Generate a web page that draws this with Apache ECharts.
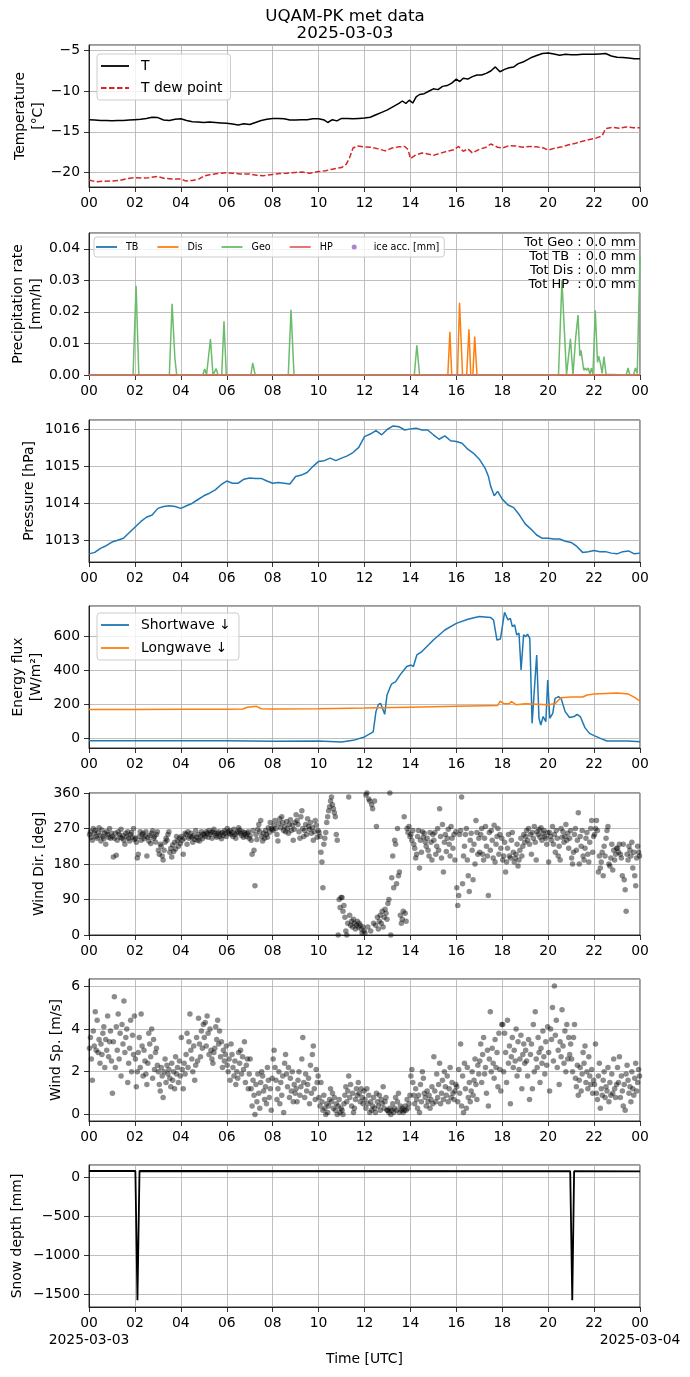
<!DOCTYPE html>
<html><head><meta charset="utf-8">
<script src="https://cdn.jsdelivr.net/npm/echarts@6/dist/echarts.min.js"></script>
<style>html,body{margin:0;padding:0;background:#fff}#c{width:690px;height:1377px}</style>
</head><body><div id="c"></div>
<script>
// ---------- DATA (hours UTC, values) ----------
const xTickLabels = ['00','02','04','06','08','10','12','14','16','18','20','22','00'];
const dateLabels = ['2025-03-03','2025-03-04'];

const tempT = [[0,-13.5],[0.25,-13.55],[0.5,-13.6],[0.75,-13.6],[1,-13.65],[1.25,-13.6],[1.5,-13.6],[1.75,-13.55],[2,-13.5],[2.25,-13.45],[2.5,-13.35],[2.75,-13.2],[3,-13.25],[3.25,-13.55],[3.5,-13.6],[3.75,-13.45],[4,-13.4],[4.25,-13.6],[4.5,-13.75],[4.75,-13.8],[5,-13.85],[5.25,-13.8],[5.5,-13.85],[5.75,-13.9],[6,-13.95],[6.25,-14.05],[6.5,-14.15],[6.75,-14.0],[7,-14.1],[7.25,-13.85],[7.5,-13.6],[7.75,-13.45],[8,-13.35],[8.25,-13.35],[8.5,-13.4],[8.75,-13.55],[9,-13.55],[9.25,-13.5],[9.5,-13.5],[9.75,-13.4],[10,-13.4],[10.25,-13.55],[10.4,-13.85],[10.6,-13.5],[10.8,-13.65],[11,-13.35],[11.25,-13.35],[11.5,-13.4],[11.75,-13.35],[12,-13.3],[12.25,-13.2],[12.5,-12.9],[12.75,-12.6],[13,-12.3],[13.25,-11.9],[13.5,-11.5],[13.65,-11.2],[13.8,-11.5],[13.95,-11.1],[14.1,-11.45],[14.25,-10.7],[14.4,-10.4],[14.6,-10.3],[14.8,-10.0],[15,-9.7],[15.2,-9.8],[15.4,-9.4],[15.6,-9.3],[15.8,-9.0],[16,-8.5],[16.15,-8.8],[16.3,-8.4],[16.5,-8.5],[16.7,-8.2],[16.9,-8.0],[17.1,-8.0],[17.3,-7.8],[17.5,-7.5],[17.7,-7.0],[17.9,-7.6],[18.1,-7.3],[18.3,-7.1],[18.5,-7.0],[18.7,-6.6],[18.9,-6.4],[19.1,-6.1],[19.3,-5.8],[19.5,-5.6],[19.75,-5.35],[20,-5.3],[20.25,-5.4],[20.5,-5.55],[20.75,-5.45],[21,-5.5],[21.25,-5.5],[21.5,-5.45],[21.75,-5.45],[22,-5.45],[22.25,-5.4],[22.5,-5.35],[22.75,-5.65],[23,-5.8],[23.25,-5.85],[23.5,-5.9],[23.75,-6.0],[24,-6.0]];

const tempDew = [[0,-20.95],[0.3,-21.15],[0.6,-21.1],[1,-21.05],[1.3,-21.0],[1.6,-20.8],[2,-20.65],[2.3,-20.7],[2.6,-20.65],[3,-20.5],[3.3,-20.75],[3.6,-20.8],[4,-20.8],[4.2,-21.05],[4.5,-21.0],[4.8,-20.8],[5,-20.45],[5.3,-20.25],[5.6,-20.15],[6,-20.05],[6.3,-20.1],[6.6,-20.2],[7,-20.2],[7.3,-20.35],[7.6,-20.4],[8,-20.25],[8.3,-20.15],[8.6,-20.1],[9,-20.0],[9.3,-19.95],[9.6,-20.1],[10,-19.9],[10.3,-19.8],[10.6,-19.6],[11,-19.4],[11.2,-19.0],[11.35,-18.2],[11.5,-17.0],[11.7,-16.75],[12,-16.85],[12.3,-16.9],[12.6,-17.1],[12.9,-17.35],[13.2,-17.0],[13.5,-16.85],[13.75,-16.8],[13.9,-17.2],[14,-18.3],[14.2,-17.9],[14.5,-17.6],[14.8,-17.75],[15,-17.9],[15.3,-17.65],[15.6,-17.4],[15.9,-17.2],[16.1,-16.8],[16.3,-17.4],[16.5,-17.1],[16.7,-17.6],[17,-17.15],[17.3,-16.9],[17.5,-16.5],[17.8,-16.9],[18,-17.0],[18.3,-16.7],[18.6,-16.75],[18.9,-16.9],[19.2,-16.8],[19.5,-16.85],[19.8,-17.0],[20,-17.25],[20.3,-17.0],[20.6,-16.85],[20.9,-16.6],[21.2,-16.4],[21.5,-16.15],[21.8,-15.95],[22.1,-15.75],[22.35,-15.5],[22.5,-14.6],[22.8,-14.45],[23.1,-14.55],[23.4,-14.4],[23.7,-14.5],[24,-14.5]];

const precipTB = [[0,0],[24,0]];
const precipHP = [[0,0],[24,0]];
const precipDis = [[0,0],[15.63,0],[15.72,0.0137],[15.8,0],[16.05,0],[16.14,0.0229],[16.27,0],[16.45,0],[16.55,0.0145],[16.63,0],[16.72,0],[16.8,0.0122],[16.9,0],[24,0]];
const precipGeo = [[0,0],[1.92,0],[2.05,0.0283],[2.17,0],[3.5,0],[3.62,0.0226],[3.74,0.0054],[3.82,0],[4.95,0],[5.04,0.0019],[5.12,0],[5.2,0],[5.29,0.0114],[5.4,0],[5.47,0],[5.54,0.002],[5.62,0],[5.78,0],[5.88,0.017],[5.98,0],[7.05,0],[7.13,0.0038],[7.24,0],[8.68,0],[8.8,0.0207],[8.93,0],[14.17,0],[14.28,0.0094],[14.4,0],[20.45,0],[20.6,0.0299],[20.8,0],[20.88,0],[20.97,0.0115],[21.08,0],[21.2,0.012],[21.3,0.019],[21.38,0.006],[21.43,0.0078],[21.48,0.0075],[21.55,0.0015],[21.62,0.0022],[21.68,0.0015],[21.75,0.0022],[21.82,0.0002],[21.88,0.0022],[21.95,0.0002],[22.05,0.0205],[22.15,0.004],[22.2,0.006],[22.28,0.0035],[22.35,0.0005],[22.43,0.0058],[22.52,0.0002],[23.4,0],[23.48,0.0022],[23.56,0],[23.72,0],[23.8,0.0022],[23.88,0.0005],[24,0.0376]];
const iceAcc = [];
const precipTotals = ['Tot Geo : 0.0 mm','Tot TB  : 0.0 mm','Tot Dis : 0.0 mm','Tot HP  : 0.0 mm'];

const pressure = [[0,1012.63],[0.25,1012.67],[0.5,1012.78],[0.75,1012.85],[1,1012.95],[1.25,1013.0],[1.5,1013.05],[1.75,1013.2],[2,1013.35],[2.25,1013.5],[2.5,1013.62],[2.75,1013.68],[3,1013.86],[3.25,1013.91],[3.5,1013.93],[3.75,1013.91],[4,1013.86],[4.25,1013.93],[4.5,1014.0],[4.75,1014.1],[5,1014.2],[5.25,1014.27],[5.5,1014.36],[5.75,1014.5],[6,1014.6],[6.25,1014.54],[6.5,1014.54],[6.75,1014.65],[7,1014.68],[7.25,1014.67],[7.5,1014.67],[7.75,1014.6],[8,1014.54],[8.25,1014.56],[8.5,1014.54],[8.75,1014.52],[9,1014.72],[9.25,1014.76],[9.5,1014.83],[9.75,1014.99],[10,1015.13],[10.25,1015.15],[10.5,1015.22],[10.75,1015.15],[11,1015.22],[11.25,1015.28],[11.5,1015.37],[11.75,1015.51],[12,1015.8],[12.25,1015.87],[12.5,1015.96],[12.75,1015.85],[13,1016.0],[13.25,1016.09],[13.5,1016.07],[13.75,1015.98],[14,1016.01],[14.25,1016.03],[14.5,1015.98],[14.75,1015.98],[15,1015.85],[15.25,1015.73],[15.5,1015.82],[15.75,1015.69],[16,1015.67],[16.25,1015.62],[16.5,1015.46],[16.75,1015.35],[17,1015.19],[17.25,1014.95],[17.4,1014.72],[17.5,1014.45],[17.65,1014.2],[17.8,1014.32],[18,1014.11],[18.25,1013.95],[18.5,1013.88],[18.75,1013.68],[19,1013.44],[19.25,1013.3],[19.5,1013.14],[19.75,1013.05],[20,1013.05],[20.25,1013.03],[20.5,1013.03],[20.75,1012.97],[21,1012.94],[21.25,1012.83],[21.5,1012.67],[21.75,1012.69],[22,1012.72],[22.25,1012.69],[22.5,1012.69],[22.75,1012.65],[23,1012.63],[23.25,1012.69],[23.5,1012.71],[23.75,1012.63],[24,1012.65]];

const swDown = [[0,-12],[2,-12],[4,-13],[6,-13],[8,-15],[10,-14],[11,-20],[11.5,-10],[12,10],[12.38,40],[12.5,160],[12.6,200],[12.7,208],[12.78,218],[12.88,143],[12.98,257],[13.17,320],[13.36,335],[13.55,375],[13.84,424],[14.03,433],[14.13,424],[14.28,492],[14.5,512],[15,580],[15.5,639],[16,678],[16.5,702],[17,718],[17.5,712],[17.62,698],[17.77,580],[17.92,586],[18.1,743],[18.25,698],[18.35,708],[18.44,659],[18.54,669],[18.63,610],[18.73,620],[18.82,404],[18.93,610],[19.02,600],[19.1,614],[19.2,590],[19.3,90],[19.37,80],[19.5,492],[19.6,120],[19.68,80],[19.78,130],[19.9,100],[19.98,345],[20.07,120],[20.2,149],[20.3,237],[20.45,247],[20.57,233],[20.74,159],[20.93,124],[21.13,130],[21.26,143],[21.4,130],[21.6,65],[21.8,31],[22,18],[22.3,0],[22.56,-14],[22.95,-14],[23.5,-14],[24,-18]];

const lwDown = [[0,172],[2,172],[4,173],[6,173],[6.7,174],[6.9,185],[7.1,188],[7.3,190],[7.5,176],[8,175],[10,176],[12,180],[14,185],[16,190],[17.8,195],[17.9,220],[18.1,205],[18.3,205],[18.4,218],[18.6,200],[19,205],[20,200],[20.3,205],[20.55,240],[21,245],[21.5,245],[21.7,257],[22,262],[22.5,265],[23,268],[23.5,262],[23.8,240],[24,220]];

// 24 readings per hour (one row per hour 00..23)
const windDirHourly = [
 [255,262,248,240,270,258,265,250,245,260,272,252,238,266,250,244,258,230,262,255,248,270,245,258],
 [250,198,245,258,202,240,262,255,248,268,245,252,240,230,258,250,262,245,238,255,260,248,270,242],
 [245,235,195,205,250,262,240,255,258,244,250,262,200,248,238,252,232,258,264,245,250,236,255,262],
 [215,205,230,225,200,190,215,235,245,240,255,262,210,220,198,228,212,235,218,250,238,225,245,232],
 [250,240,205,245,258,255,230,262,245,250,258,248,235,252,242,265,248,240,255,238,250,262,244,256],
 [255,250,262,258,248,265,255,260,245,262,268,258,252,248,258,262,250,256,244,260,252,264,258,250],
 [270,262,258,265,255,260,250,268,255,245,258,262,272,266,258,252,262,248,260,255,250,258,262,245],
 [252,240,205,265,215,125,255,242,268,280,262,290,250,238,258,245,265,255,248,272,260,285,270,268],
 [265,278,290,270,255,238,282,295,272,300,285,265,275,262,288,270,258,280,292,265,278,240,268,285],
 [305,290,280,262,245,300,315,270,250,265,280,255,295,275,268,285,258,272,240,262,290,278,248,265],
 [260,250,210,185,120,230,245,260,285,300,315,325,340,350,330,320,310,300,255,240,0,90,70,95],
 [95,60,75,45,10,0,30,350,50,25,35,20,40,30,15,25,35,20,30,25,15,5,20,10],
 [5,355,360,20,345,340,10,330,320,30,340,25,275,45,15,35,50,30,60,20,45,65,55,40],
 [80,90,360,0,145,200,120,240,230,130,270,150,160,50,30,40,60,300,55,35,270,260,275,250],
 [255,240,265,230,220,195,205,250,265,170,240,210,262,248,258,236,225,245,215,200,260,235,190,255],
 [240,260,205,225,270,215,320,250,195,280,160,235,255,212,245,268,230,200,275,245,220,255,190,262],
 [120,75,100,255,265,350,130,200,225,255,270,190,150,110,240,258,215,140,230,180,290,260,205,245],
 [210,255,270,205,190,245,275,225,200,100,260,215,265,240,195,278,185,230,250,270,205,255,220,245],
 [190,200,235,160,185,220,255,200,195,240,260,210,185,195,205,230,175,190,215,245,200,225,255,235],
 [250,265,240,270,230,255,205,260,245,275,235,190,262,255,268,248,272,240,258,265,250,245,230,260],
 [185,260,250,240,275,230,255,210,265,245,200,225,190,270,248,262,235,250,280,240,258,220,245,265],
 [195,180,210,255,270,215,240,310,180,250,225,265,200,190,220,245,260,205,185,235,270,290,210,250],
 [255,270,290,265,160,200,170,185,210,150,225,200,245,265,275,180,175,195,230,165,215,190,205,220],
 [220,210,230,205,195,150,230,140,115,60,205,190,225,215,200,235,170,210,150,125,195,225,210,200]
];

const windSpHourly = [
 [3.1,3.6,2.6,1.6,3.9,3.2,4.8,3.0,4.4,2.9,3.5,2.4,3.3,2.8,3.8,4.1,2.2,3.5,3.0,4.6,2.7,3.4,3.9,2.5],
 [1.0,3.4,5.5,2.2,4.1,3.0,4.7,2.6,3.8,1.8,4.2,3.3,5.3,2.9,3.6,4.0,1.5,2.4,3.1,4.4,2.0,3.7,2.8,4.6],
 [2.6,1.3,2.0,2.9,3.6,2.2,4.7,3.2,1.8,3.0,2.5,1.9,1.4,2.4,3.8,3.3,2.7,4.0,1.7,3.5,2.1,2.9,3.1,2.3],
 [2.0,1.4,1.1,2.2,1.8,0.8,2.0,2.6,1.5,2.3,1.9,2.1,1.7,1.3,2.4,1.6,2.0,1.2,2.7,1.9,2.2,1.5,2.5,1.8],
 [3.6,2.1,1.2,2.4,1.9,2.8,3.8,2.2,3.4,4.7,3.0,2.6,2.0,3.2,1.6,2.3,3.6,2.5,4.5,3.3,2.7,3.9,3.1,4.2],
 [3.6,4.3,3.2,4.6,3.8,2.8,4.0,3.0,2.6,2.4,2.9,3.1,4.1,3.5,4.4,3.3,3.9,2.7,3.4,2.2,3.0,2.5,2.8,3.2],
 [2.3,2.0,2.6,1.6,3.3,2.8,2.2,1.8,2.5,1.4,2.0,1.7,2.9,2.4,3.0,1.9,2.7,2.1,3.4,1.5,2.3,2.6,1.2,1.9],
 [2.6,1.2,0.4,1.6,0.9,0.0,1.4,0.6,1.9,1.0,0.3,1.5,2.0,1.8,1.1,0.7,1.3,0.5,2.2,1.6,0.8,1.2,0.2,1.7],
 [2.6,3.0,2.2,1.6,0.7,1.2,2.0,0.5,1.5,0.9,1.8,0.1,2.4,2.8,1.9,1.3,2.2,0.8,1.7,1.1,2.0,0.6,1.4,1.0],
 [1.2,0.6,1.6,2.0,0.9,1.3,2.6,3.6,1.5,0.8,1.9,1.1,1.4,1.7,0.5,2.3,1.0,2.8,3.2,1.2,0.7,2.1,1.5,1.8],
 [0.8,0.4,1.5,0.6,0.2,0.9,0.3,0.0,0.5,0.1,0.4,0.7,1.2,0.6,1.0,0.3,0.8,0.2,0.5,0.0,0.4,0.7,0.1,0.3],
 [0.2,0.0,0.5,0.9,1.3,0.6,1.1,1.8,0.8,1.4,0.4,1.0,0.1,0.3,0.7,1.2,0.9,1.5,1.0,0.6,1.2,0.8,0.5,1.1],
 [0.7,0.3,1.2,0.5,0.9,0.1,0.6,0.2,0.4,0.8,0.3,0.1,1.0,0.6,0.4,0.9,0.2,0.7,0.5,1.3,0.3,0.6,0.8,0.2],
 [0.2,0.1,0.3,0.0,0.2,0.5,0.1,0.3,0.8,0.2,0.6,1.0,0.1,0.4,0.2,0.3,0.1,0.2,0.4,0.2,0.7,0.3,0.5,0.9],
 [1.8,2.1,1.5,0.9,0.5,1.2,0.7,0.3,0.9,0.1,1.4,0.6,2.0,1.7,1.0,0.8,0.4,1.1,0.6,0.9,0.3,0.7,1.3,0.5],
 [2.7,1.1,0.6,1.9,0.8,1.4,2.4,0.5,1.0,1.6,0.7,2.0,1.3,0.9,1.8,0.6,1.2,2.2,0.8,1.5,1.0,0.7,1.1,1.4],
 [1.3,0.6,2.1,1.0,3.3,0.4,1.8,0.1,2.4,1.2,0.3,2.2,0.8,1.5,0.6,1.1,2.0,0.9,1.6,2.6,1.4,0.7,2.3,1.9],
 [2.5,3.3,1.5,2.8,3.6,1.9,2.2,1.0,3.0,0.4,2.6,4.8,2.0,3.1,2.4,1.7,3.5,2.2,2.9,1.3,3.8,2.1,1.1,4.2],
 [4.2,2.0,3.8,2.9,1.5,4.4,2.4,3.2,0.5,2.7,3.6,2.2,3.0,2.5,4.0,1.8,3.4,2.1,2.6,3.7,1.2,2.8,3.3,2.4],
 [3.0,2.5,1.8,3.5,0.7,2.8,3.3,1.2,4.2,2.0,4.8,2.6,2.2,3.6,2.9,1.5,3.1,2.4,3.9,2.7,1.9,3.4,2.3,4.1],
 [2.9,1.1,4.0,3.5,5.0,2.5,6.0,3.7,4.4,2.2,3.0,1.4,3.4,2.7,4.9,3.2,2.4,3.9,2.0,4.2,2.6,3.6,2.8,3.3],
 [2.6,2.0,3.6,4.2,1.7,1.3,2.3,0.9,1.6,2.2,1.1,1.9,2.9,2.4,3.2,1.5,2.0,1.2,2.7,1.8,1.4,2.1,1.0,1.6],
 [1.4,3.3,1.0,0.7,1.8,2.4,0.3,1.2,0.9,1.6,2.0,0.8,1.3,1.1,2.2,0.6,1.5,0.9,1.9,1.0,2.6,1.2,0.8,1.4],
 [2.2,1.5,2.7,0.8,1.8,1.1,0.4,1.4,0.2,1.9,2.3,1.6,1.0,1.3,0.6,2.0,1.2,0.9,1.7,2.4,1.1,1.5,2.1,1.8]
];

const snowDepth = [[0,85],[2.02,85],[2.11,-1575],[2.2,85],[20.96,82],[21.05,-1575],[21.13,82],[24,80]];

// ---------- helpers ----------
function hourlyToPoints(rows){
  const pts=[];
  rows.forEach((row,h)=>row.forEach((v,i)=>pts.push([h+(i+0.5)/row.length, v])));
  return pts;
}
const FONT = 'DejaVu Sans';
const FS = 13.9;
const tops = [45,233,420,606,793,979,1165];
const H = 142;
const minus = v => (v<0?'\u2212':'') + Math.abs(v);

const grids = tops.map(t => ({left:89, width:551, top:t, height:H, show:true, borderColor:'#000', borderWidth:0.8,
  backgroundColor:'transparent', containLabel:false, outerBoundsMode:'none'}));

const xAxes = tops.map((t,i) => ({
  gridIndex:i, type:'value', min:0, max:24, interval:2,
  axisLine:{show:true, onZero:false, lineStyle:{color:'#000', width:0.8}},
  axisTick:{show:true, length:5, lineStyle:{color:'#000', width:0.8}},
  axisLabel:{margin:8, fontSize:FS, color:'#000', fontFamily:FONT, lineHeight:17, showMinLabel:true, showMaxLabel:true,
    formatter: v => xTickLabels[Math.round(v/2)]},
  splitLine:{show:true, lineStyle:{color:'#b0b0b0', width:0.8}},
  name: i===6 ? 'Time [UTC]' : '', nameLocation:'middle', nameGap:45, nameMoveOverlap:false,
  nameTextStyle:{fontSize:FS, color:'#000', fontFamily:FONT}
}));
// date line under the last panel's first and last tick
xAxes.push({
  gridIndex:6, type:'value', min:0, max:24, interval:24, position:'bottom', offset:17,
  axisLine:{show:false}, axisTick:{show:false}, splitLine:{show:false},
  axisLabel:{margin:8, fontSize:FS, color:'#000', fontFamily:FONT, lineHeight:17, showMinLabel:true, showMaxLabel:true,
    formatter: v => v===0 ? dateLabels[0] : dateLabels[1]}
});

function yAx(i, o, lab){
  return Object.assign({
    gridIndex:i, type:'value',
    axisLine:{show:true, onZero:false, lineStyle:{color:'#000', width:0.8}},
    axisTick:{show:true, length:5, lineStyle:{color:'#000', width:0.8}},
    axisLabel:Object.assign({margin:9, fontSize:FS, color:'#000', fontFamily:FONT, showMinLabel:false, showMaxLabel:false, formatter:v=>String(v)}, lab||{}),
    splitLine:{show:true, lineStyle:{color:'#b0b0b0', width:0.8}},
    nameLocation:'middle', nameRotate:90, nameMoveOverlap:false,
    nameTextStyle:{fontSize:FS, color:'#000', fontFamily:FONT, lineHeight:17.5}
  }, o);
}
const yAxes = [
  yAx(0,{min:-21.8, max:-4.3, splitNumber:4, name:'Temperature\n[°C]', nameGap:42}, {formatter:minus}),
  yAx(1,{min:0, max:0.045, interval:0.01, name:'Precipitation rate\n[mm/h]', nameGap:44}, {showMinLabel:true, formatter:v=>v.toFixed(2)}),
  yAx(2,{min:1012.41, max:1016.25, splitNumber:4, name:'Pressure [hPa]', nameGap:51}),
  yAx(3,{min:-55, max:780, splitNumber:5, name:'Energy flux\n[W/m²]', nameGap:44}),
  yAx(4,{min:0, max:360, interval:90, name:'Wind Dir. [deg]', nameGap:41}, {showMinLabel:true, showMaxLabel:true}),
  yAx(5,{min:-0.3, max:6.33, splitNumber:4, name:'Wind Sp. [m/s]', nameGap:24}),
  yAx(6,{min:-1662, max:162, splitNumber:4, name:'Snow depth [mm]', nameGap:63}, {formatter:minus})
];

const lineS = (name, data, xi, color, extra) => Object.assign({
  name, type:'line', data, xAxisIndex:xi, yAxisIndex:xi, showSymbol:false, symbol:'none',
  lineStyle:{color, width:1.5}, itemStyle:{color}, animation:false
}, extra||{});

const series = [
  lineS('T', tempT, 0, '#000000'),
  lineS('T dew point', tempDew, 0, '#d62728', {lineStyle:{color:'#d62728', width:1.5, type:[5.5,2.4]}}),
  lineS('TB', precipTB, 1, '#1f77b4'),
  lineS('Dis', precipDis, 1, '#ff7f0e'),
  lineS('Geo', precipGeo, 1, '#6bbc6b'),
  lineS('HP', precipHP, 1, '#e26768'),
  {name:'ice acc. [mm]', type:'scatter', data:iceAcc, xAxisIndex:1, yAxisIndex:1, symbolSize:5, itemStyle:{color:'#9467bd'}},
  lineS('Pressure', pressure, 2, '#1f77b4'),
  lineS('Shortwave \u2193', swDown, 3, '#1f77b4'),
  lineS('Longwave \u2193', lwDown, 3, '#ff7f0e'),
  {name:'Wind Dir', type:'scatter', data:hourlyToPoints(windDirHourly), xAxisIndex:4, yAxisIndex:4, symbolSize:5.5, itemStyle:{color:'#000', opacity:0.45}, animation:false},
  {name:'Wind Sp', type:'scatter', data:hourlyToPoints(windSpHourly), xAxisIndex:5, yAxisIndex:5, symbolSize:5.5, itemStyle:{color:'#000', opacity:0.45}, animation:false},
  lineS('Snow depth', snowDepth, 6, '#000000', {lineStyle:{color:'#000', width:1.8}})
];

const LINE28 = 'path://M0,0h28v1.8h-28z';
const DASH28 = 'path://M0,0h5.5v1.8h-5.5zM8,0h5.5v1.8h-5.5zM16,0h5.5v1.8h-5.5zM24,0h4v1.8h-4z';
const LINE21 = 'path://M0,0h21v1.8h-21z';
const legBox = {backgroundColor:'rgba(255,255,255,0.8)', borderColor:'#cccccc', borderWidth:1, borderRadius:3};
const legends = [
  Object.assign({data:[{name:'T',icon:LINE28},{name:'T dew point',icon:DASH28}], orient:'vertical', left:97, top:54, itemWidth:28, itemHeight:12, itemGap:8,
    padding:[5,8,5,4], textStyle:{fontSize:FS, color:'#000', fontFamily:FONT, padding:[0,0,0,7], lineHeight:14}}, legBox),
  Object.assign({data:[{name:'TB',icon:LINE21},{name:'Dis',icon:LINE21},{name:'Geo',icon:LINE21},{name:'HP',icon:LINE21},{name:'ice acc. [mm]', icon:'circle'}], orient:'horizontal', left:94, top:237, itemWidth:21, itemHeight:5, itemGap:19,
    padding:[5,5,5,2], textStyle:{fontSize:9.6, color:'#000', fontFamily:FONT, padding:[0,0,0,4], lineHeight:10}}, legBox),
  Object.assign({data:[{name:'Shortwave \u2193',icon:LINE28},{name:'Longwave \u2193',icon:LINE28}], orient:'vertical', left:97, top:613, itemWidth:28, itemHeight:12, itemGap:9,
    padding:[5,8,5,4], textStyle:{fontSize:FS, color:'#000', fontFamily:FONT, padding:[0,0,0,7], lineHeight:14}}, legBox)
];

const chart = echarts.init(document.getElementById('c'), null, {renderer:'canvas'});
chart.setOption({
  animation:false,
  backgroundColor:'#fff',
  title:{text:'UQAM-PK met data\n2025-03-03', left:'center', top:3, textStyle:{fontSize:16.7, fontWeight:'normal', color:'#000', fontFamily:FONT, lineHeight:17}},
  grid:grids, xAxis:xAxes, yAxis:yAxes, legend:legends, series,
  graphic:[{type:'text', x:636, y:235, style:{text:precipTotals.join('\n'), fontSize:13, fontFamily:FONT, fill:'#000', align:'right', verticalAlign:'top', lineHeight:14.3}, z:100}]
});
</script></body></html>
